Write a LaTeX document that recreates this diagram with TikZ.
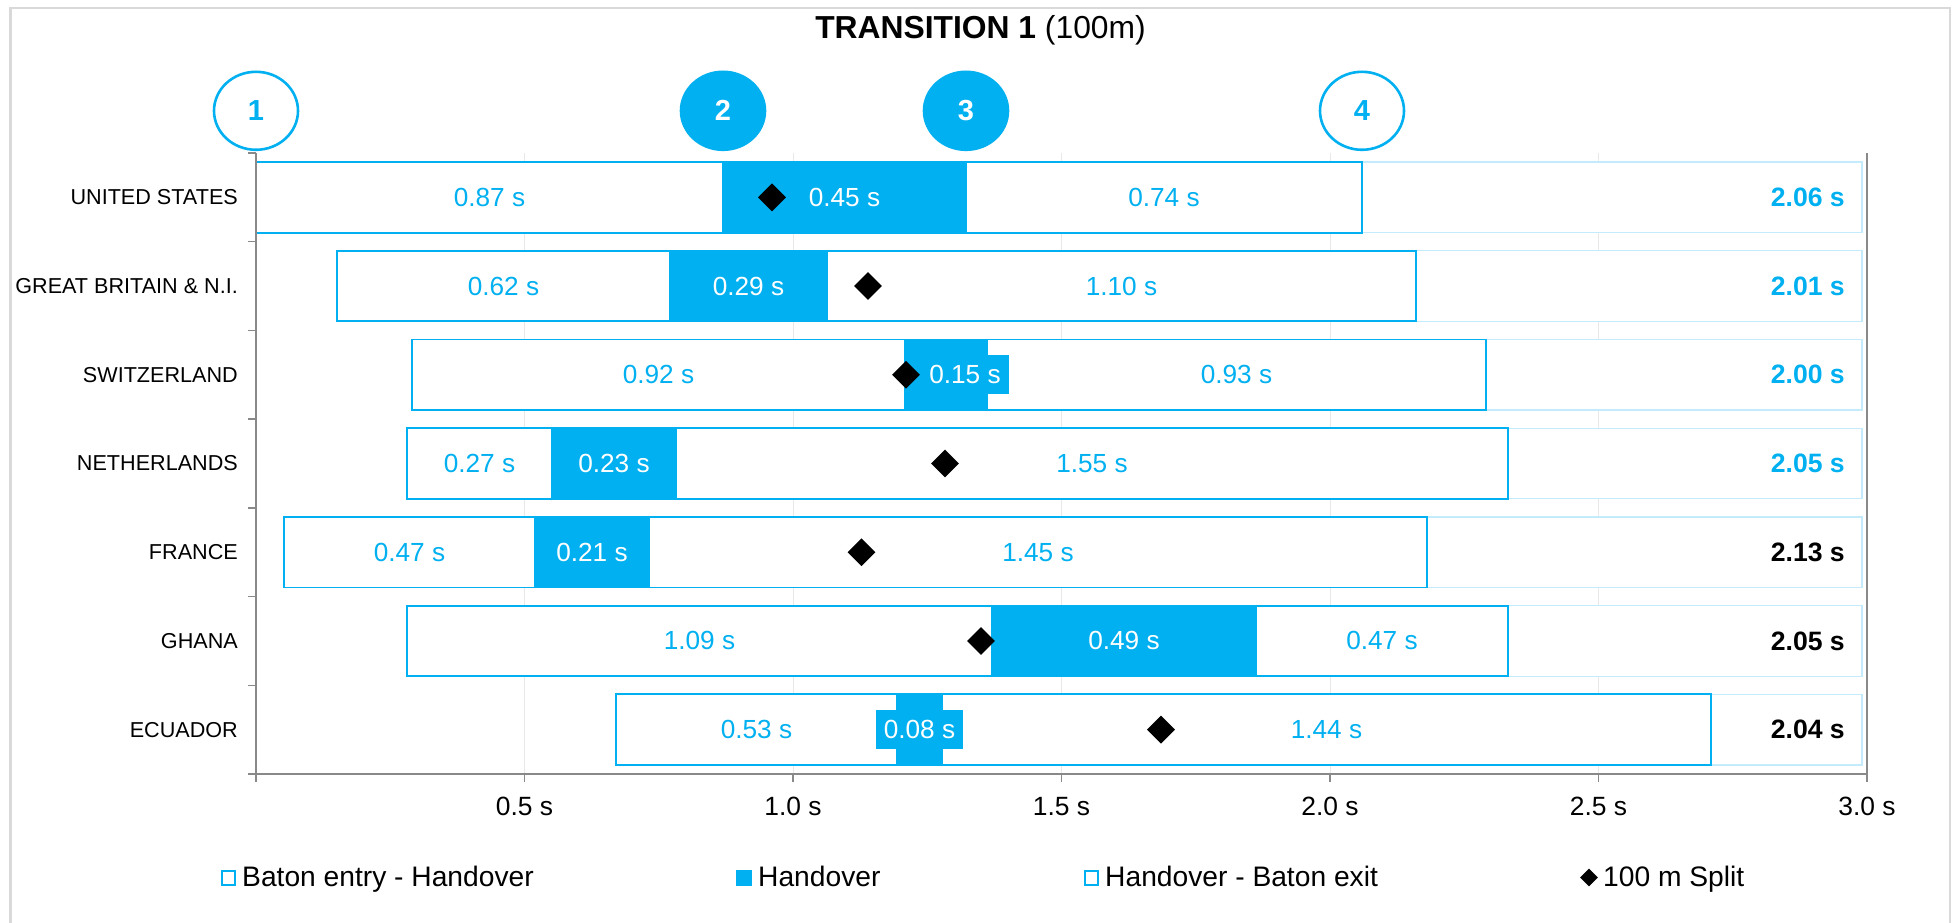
\documentclass[tikz,border=0pt]{standalone}
\usepackage{fontspec}
\setmainfont{Liberation Sans}
\usetikzlibrary{calc,shapes.geometric}

\definecolor{xblue}{RGB}{0,176,240}
\definecolor{xlight}{RGB}{196,235,251}
\definecolor{xgrid}{RGB}{232,232,232}
\definecolor{xaxis}{RGB}{137,137,137}
\definecolor{xframe}{RGB}{217,217,217}

\newcommand\fsz[1]{\fontsize{#1}{#1}\selectfont}

\tikzset{
  bseg/.style={draw=xblue, line width=1.8pt, fill=white},
  bhand/.style={draw=xblue, line width=1.8pt, fill=xblue},
  remseg/.style={draw=xlight, line width=1.2pt, fill=white},
  dur/.style={text=xblue, font=\fsz{26.2}, inner sep=0pt},
  durw/.style={text=white, fill=xblue, font=\fsz{26.2}, inner xsep=8pt, inner ysep=0pt, minimum height=39pt},
  tot/.style={font=\bfseries\fsz{26.6}, anchor=east, inner sep=0pt},
  cty/.style={font=\fsz{21.6}, anchor=east, inner sep=0pt},
  axline/.style={draw=xaxis, line width=1.5pt},
  gridln/.style={draw=xgrid, line width=1pt},
  splitmark/.style={diamond, fill=black, inner sep=0pt, minimum width=28pt, minimum height=28pt},
  ringmark/.style={ellipse, draw=xblue, line width=2.6pt, minimum width=84pt, minimum height=78pt, inner sep=0pt, text=xblue, font=\bfseries\fsz{29}},
  discmark/.style={ellipse, fill=xblue, draw=xblue, line width=2.6pt, minimum width=84pt, minimum height=78pt, inner sep=0pt, text=white, font=\bfseries\fsz{29}},
  lgd/.style={font=\fsz{28.2}, anchor=base west, inner sep=0pt},
  axlab/.style={font=\fsz{26.4}, anchor=base, inner sep=0pt},
}

\begin{document}
\begin{tikzpicture}[x=1pt,y=-1pt]
\useasboundingbox (0,0) rectangle (1952,923);
\fill[white] (0,0) rectangle (1952,923);

% frame of the chart
\draw[draw=xframe, line width=2.5pt] (10.5,8) rectangle (1950,935);

% title
\node[anchor=base, font=\fsz{31.8}, inner sep=0pt] (title) at (980.5,38.3) {\textbf{TRANSITION 1} (100m)};

% vertical grid lines
\foreach \k in {1,...,5}
  \draw[gridln] (256+268.5*\k,153) -- (256+268.5*\k,774);

% one stacked bar per team
\foreach \i/\cn/\xa/\xb/\xc/\xd/\xs/\hx/\la/\lh/\lb/\tot/\tc in {
  1/UNITED STATES/256/723/966/1362/772/844.5/0.87/0.45/0.74/2.06/xblue,
  2/GREAT BRITAIN \& N.I./337/670/827/1416/868/748.5/0.62/0.29/1.10/2.01/xblue,
  3/SWITZERLAND/412/905/987/1486/906/965/0.92/0.15/0.93/2.00/xblue,
  4/NETHERLANDS/407/552/676/1508/945/614/0.27/0.23/1.55/2.05/xblue,
  5/FRANCE/284/535/649/1427/861.5/592/0.47/0.21/1.45/2.13/black,
  6/GHANA/407/992/1256/1508/981/1124/1.09/0.49/0.47/2.05/black,
  7/ECUADOR/616/897/942/1711/1161/919.5/0.53/0.08/1.44/2.04/black}
{
  \pgfmathsetmacro\yc{153+88.714*(\i-0.5)}
  \pgfmathsetmacro\yt{\yc-35.3}
  \pgfmathsetmacro\yb{\yc+35.3}
  \draw[remseg] (\xd,\yt) rectangle (1862,\yb);
  \draw[bseg] (\xa,\yt) rectangle (\xb,\yb);
  \draw[bseg] (\xc,\yt) rectangle (\xd,\yb);
  \draw[bhand] (\xb,\yt) rectangle (\xc,\yb);
  \node[cty] (country\i) at (238,\yc) {\cn};
  \node[dur] (entry\i) at ({(\xa+\xb)/2},\yc) {\la\ s};
  \node[dur] (exit\i) at ({(\xc+\xd)/2},\yc) {\lb\ s};
  \node[durw] (hand\i) at (\hx,\yc) {\lh\ s};
  \node[splitmark] (split\i) at (\xs,\yc) {};
  \node[tot, text=\tc] (total\i) at (1845,\yc) {\tot\ s};
}

% axes
\draw[axline] (256,153) -- (256,774) -- (1867,774) -- (1867,153);
\foreach \k in {0,...,7}
  \draw[axline] (248,153+88.714*\k) -- (256,153+88.714*\k);
\foreach \k in {0,...,6}
  \draw[axline] (256+268.5*\k,774) -- (256+268.5*\k,782);
\foreach \k/\t in {1/0.5,2/1.0,3/1.5,4/2.0,5/2.5,6/3.0}
  \node[axlab] (xt\k) at (256+268.5*\k,815) {\t\ s};

% numbered markers of the four phases
\node[ringmark] (m1) at (256,110.8) {1};
\node[discmark] (m2) at (723,110.8) {2};
\node[discmark] (m3) at (966,110.8) {3};
\node[ringmark] (m4) at (1362,110.8) {4};

% legend
\draw[draw=xblue, line width=2pt, fill=white] (222,871) rectangle (235,885);
\node[lgd] (lg1) at (242,886.5) {Baton entry - Handover};
\fill[xblue] (736,870) rectangle (752,886);
\node[lgd] (lg2) at (758,886.5) {Handover};
\draw[draw=xblue, line width=2pt, fill=white] (1085,871) rectangle (1098,885);
\node[lgd] (lg3) at (1105,886.5) {Handover - Baton exit};
\node[diamond, fill=black, inner sep=0pt, minimum width=18pt, minimum height=18pt] (lg4m) at (1589,877.5) {};
\node[lgd] (lg4) at (1603,886.5) {100 m Split};
\end{tikzpicture}
\end{document}
